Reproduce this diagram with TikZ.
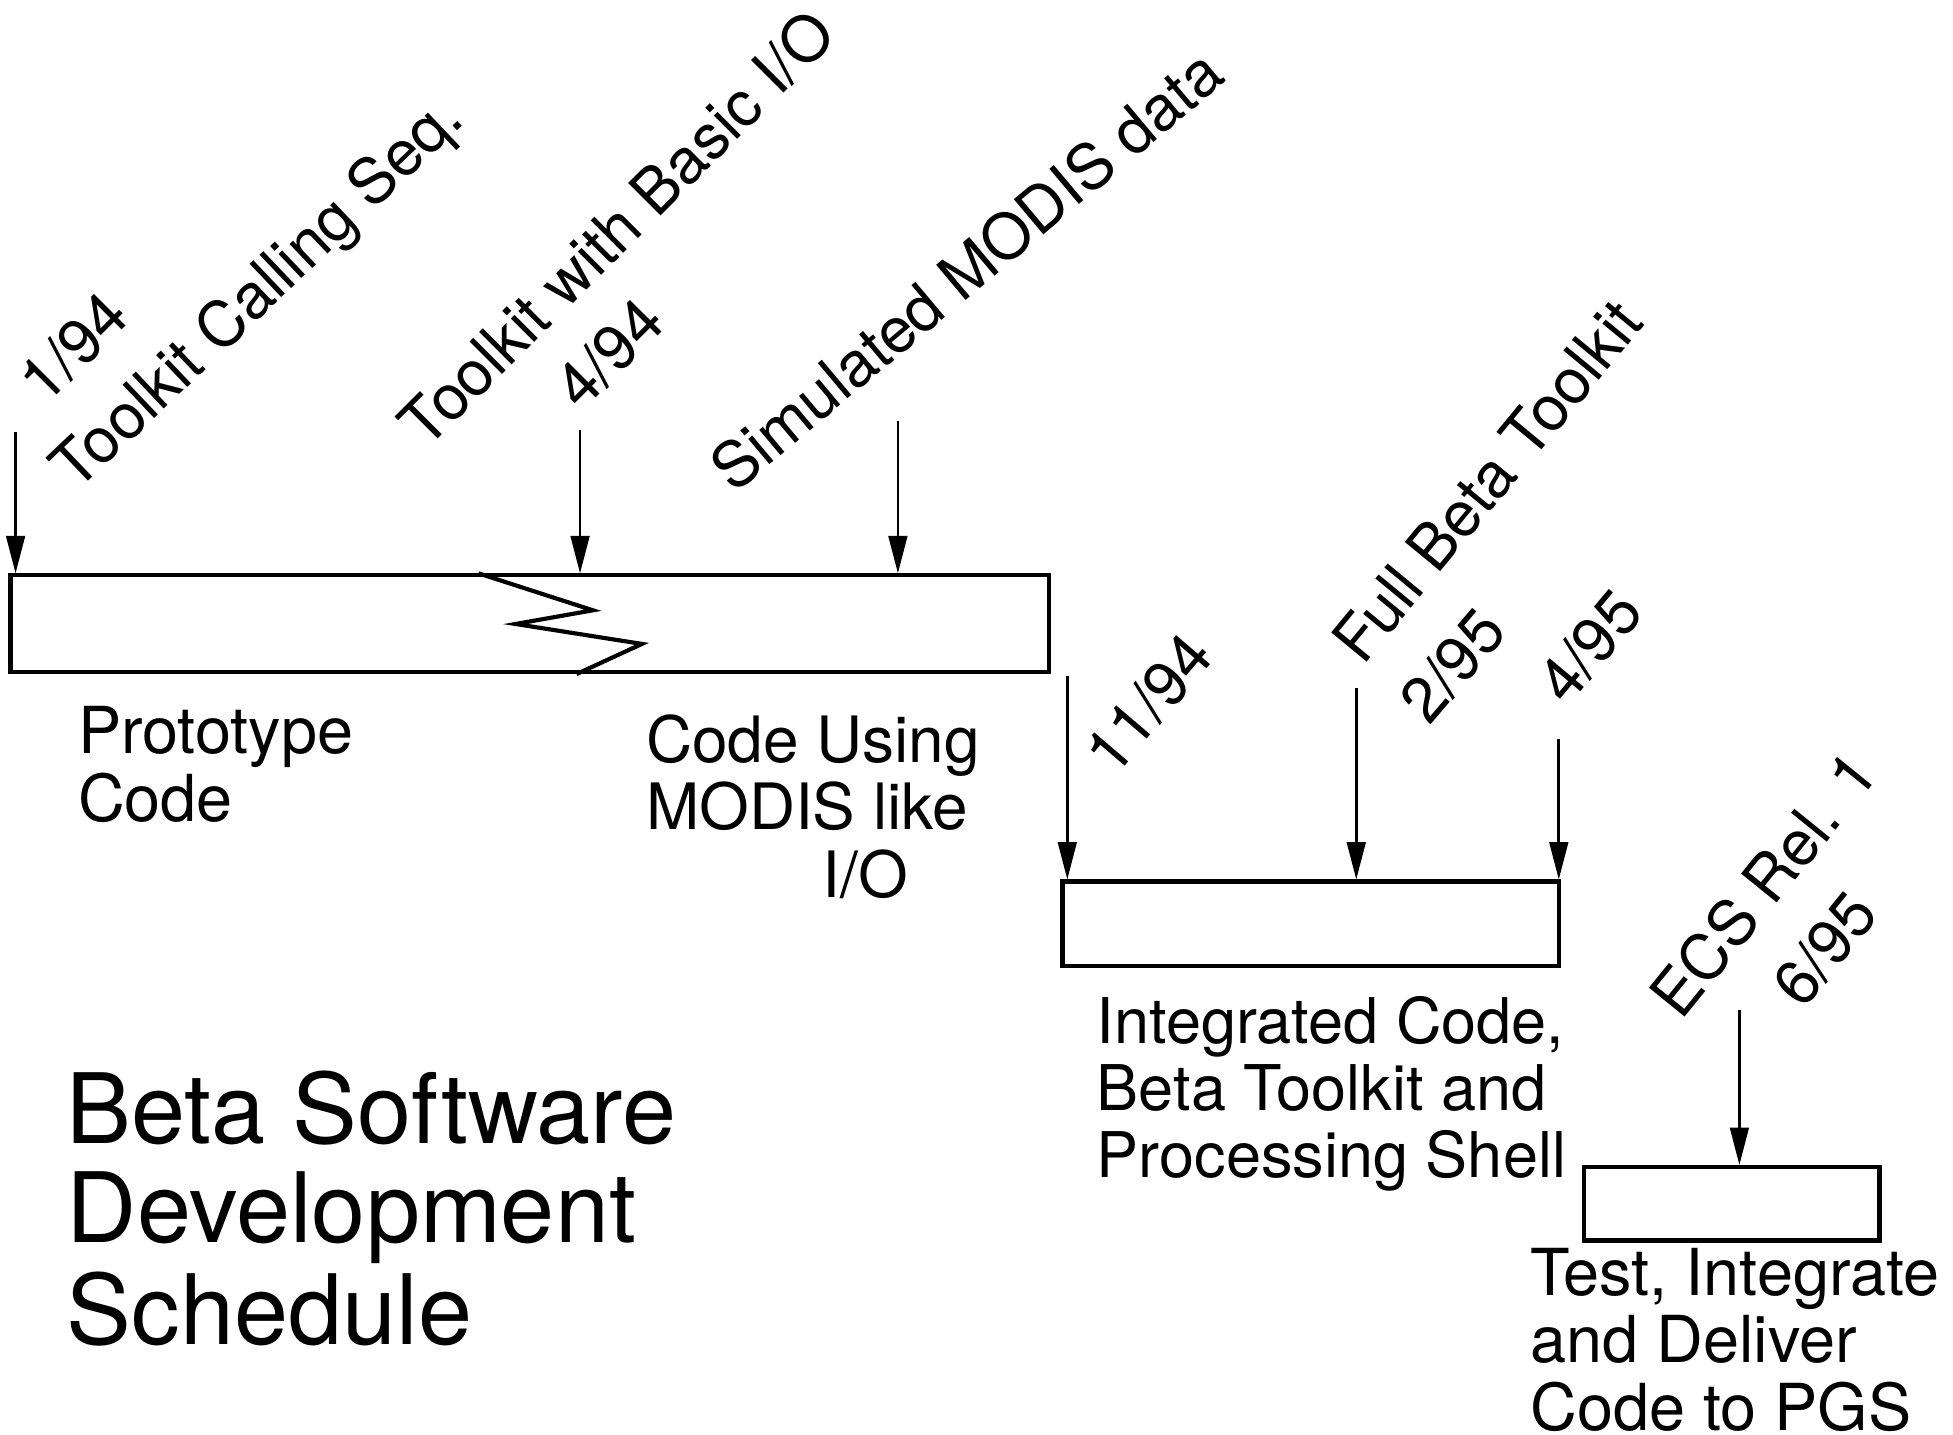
\documentclass[tikz,border=0pt]{standalone}
\usepackage{fontspec}
\setmainfont{TeX Gyre Heros}
\usetikzlibrary{arrows.meta,calc}
\begin{document}
\begin{tikzpicture}[x=0.1mm,y=-0.1mm,
  lbl/.style={font=\fontsize{14.6}{15.2}\selectfont, inner sep=0pt, anchor=base west},
  rlbl/.style={font=\fontsize{14.4}{15.2}\selectfont, inner sep=0pt, anchor=center},
  titlelbl/.style={font=\fontsize{22.2}{21.9}\selectfont, inner sep=0pt, anchor=base west},
  bar/.style={draw, line width=0.95pt, inner sep=0pt},
  zig/.style={line width=0.95pt, line join=miter},
  milestone/.style={-{Triangle[length=3mm,width=1.5mm]}, line width=0.6pt}]
\useasboundingbox (0,0) rectangle (1568,1152);
\fill[white] (0,0) rectangle (1568,1152);

% activity bars
\node[bar, minimum width=83.36mm, minimum height=7.75mm] (proto) at (425.2,500.75) {};
\node[bar, minimum width=39.9mm, minimum height=6.8mm] (integ) at (1052.5,741.8) {};
\node[bar, minimum width=23.7mm, minimum height=5.9mm] (test) at (1390.5,966.5) {};

% break in the first bar
\draw[zig] ($(proto.north west)+(377.4,0)$) -- (476,490) -- (414,501) -- (515.4,517) -- ($(proto.south west)+(456.2,0)$);

% milestone arrows
\coordinate (m1) at (12.5,346.6);
\coordinate (m2) at (465.7,345.2);
\coordinate (m3) at (720.9,338.4);
\coordinate (m4) at (856.9,542.8);
\coordinate (m5) at (1088.9,552);
\coordinate (m6) at (1251.5,593.5);
\coordinate (m7) at (1396.5,810.9);
\draw[milestone] (m1) -- (m1 |- proto.north);
\draw[milestone] (m2) -- (m2 |- proto.north);
\draw[milestone] (m3) -- (m3 |- proto.north);
\draw[milestone] (m4) -- (m4 |- integ.north);
\draw[milestone] (m5) -- (m5 |- integ.north);
\draw[milestone] (m6) -- (m6 |- integ.north);
\draw[milestone] (m7) -- (m7 |- test.north);

% milestone labels
\node[rlbl, rotate=45] (l194) at (59,279) {1/94};
\node[rlbl, rotate=43.5] (ltcs) at (209,237) {Toolkit Calling Seq.};
\node[rlbl, rotate=45] (ltwb) at (495,183) {Toolkit with Basic I/O};
\node[rlbl, rotate=45] (l494) at (489,284) {4/94};
\node[rlbl, rotate=40] (lsim) at (776,216.5) {Simulated MODIS data};
\node[rlbl, rotate=49.5] (l1194) at (922,565) {11/94};
\node[rlbl, rotate=50.5] (lfbt) at (1194,386) {Full Beta Toolkit};
\node[rlbl, rotate=49.5] (l295) at (1166,534) {2/95};
\node[rlbl, rotate=50] (l495) at (1276,519) {4/95};
\node[rlbl, rotate=51] (lecs) at (1415.5,710) {ECS Rel. 1};
\node[rlbl, rotate=51] (l695) at (1465,762) {6/95};

% bar labels
\node[lbl, font=\fontsize{14.8}{15.2}\selectfont] (tproto) at (62,605) {\begin{tabular}[t]{@{}l@{}}Prototype\\Code\end{tabular}};
\node[lbl] (tcode) at (518,612) {\begin{tabular}[t]{@{}l@{}}Code Using\\MODIS like\\\hspace*{14.2mm}I/O\end{tabular}};
\node[lbl, font=\fontsize{14.4}{15.2}\selectfont] (tinteg) at (880,838) {\begin{tabular}[t]{@{}l@{}}Integrated Code,\\Beta Toolkit and\\Processing Shell\end{tabular}};
\node[lbl, font=\fontsize{14.8}{15.1}\selectfont] (ttest) at (1228,1040) {\begin{tabular}[t]{@{}l@{}}Test, Integrate\\and Deliver\\Code to PGS\end{tabular}};

% title
\node[titlelbl] (title) at (53,918) {\begin{tabular}[t]{@{}l@{}}Beta Software\\Development\\Schedule\end{tabular}};
\end{tikzpicture}
\end{document}
